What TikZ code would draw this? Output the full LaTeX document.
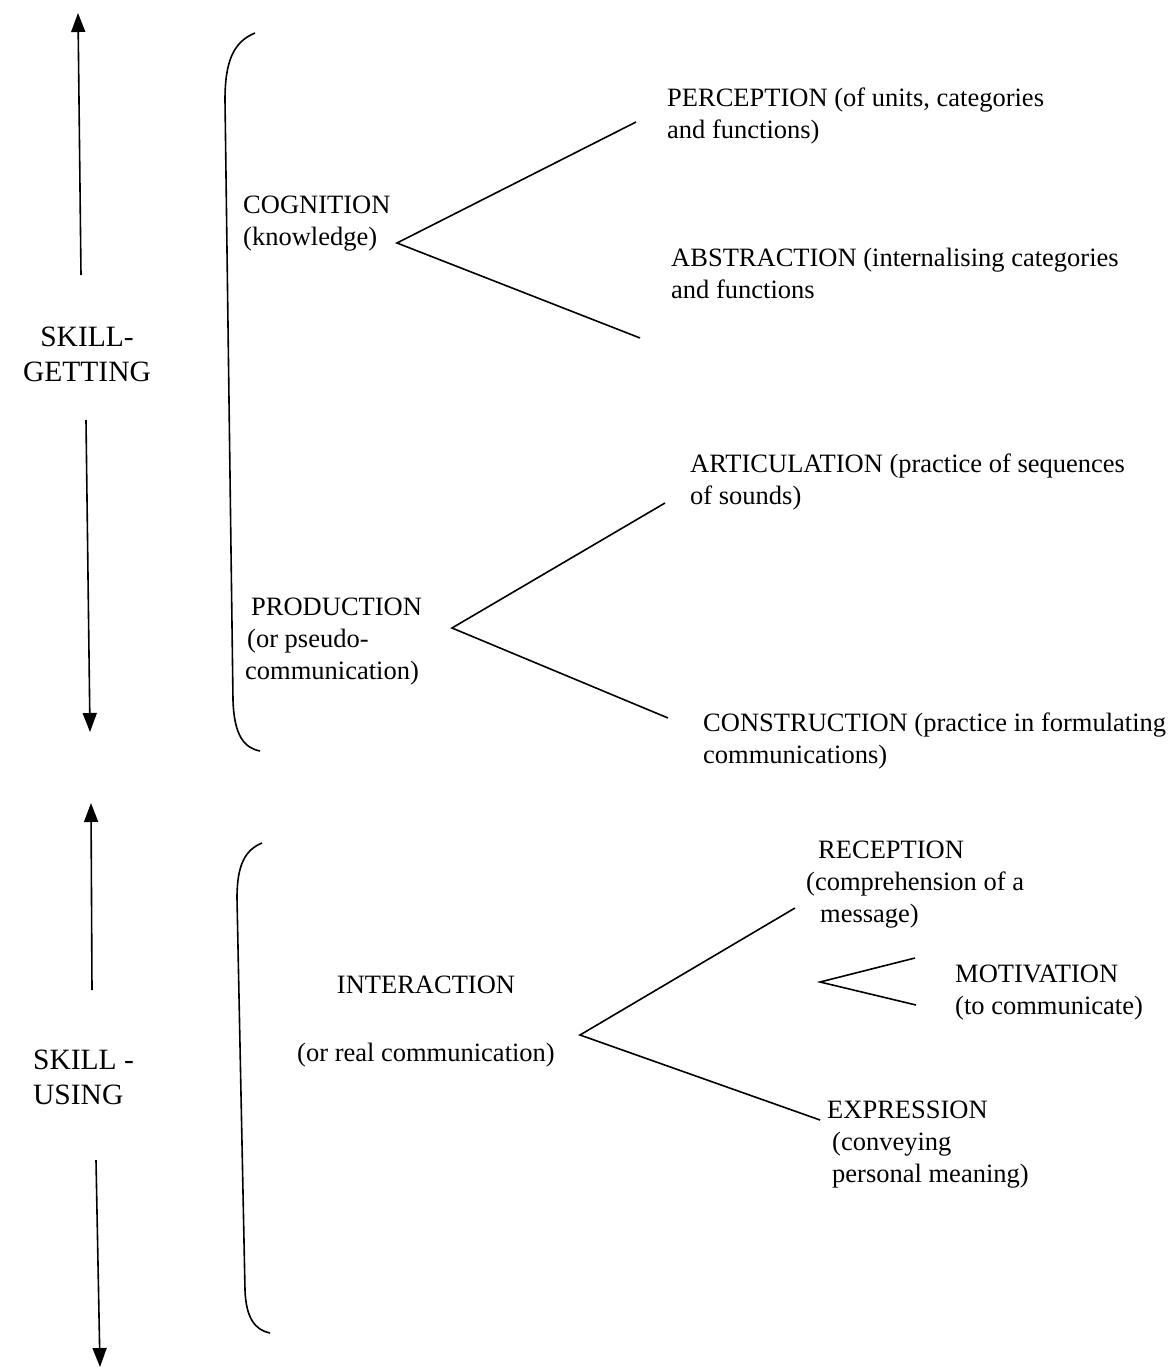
\documentclass[tikz,border=0pt]{standalone}
\usepackage{fontspec}
\setmainfont{Liberation Serif}
\usetikzlibrary{arrows.meta}
\begin{document}
\begin{tikzpicture}[x=1pt,y=-1pt,
  lbl/.style={font=\fontsize{26.5}{32}\selectfont, inner sep=0pt, anchor=north west, align=left},
  big/.style={font=\fontsize{29.5}{35}\selectfont, inner sep=0pt, anchor=north, align=center},
  arr/.style={line width=1.6pt, -{Triangle[length=19pt,width=14pt]}},
  ln/.style={line width=1.6pt},
  brk/.style={line width=1.6pt}]
\useasboundingbox[fill=white] (0,0) rectangle (1173,1372);

% side labels
\node[big] (sg) at (87,327) {SKILL-\\GETTING};
\node[big, align=left, anchor=north west] (su) at (33,1050) {SKILL -\\USING};

% text nodes
\node[lbl] (cog) at (243,196) {COGNITION\\(knowledge)};
\node[lbl] (perc) at (667,88) {PERCEPTION (of units, categories\\and functions)};
\node[lbl] (abs) at (671,248) {ABSTRACTION (internalising categories\\and functions};
\node[lbl] (prod) at (245,598) {\hspace*{6pt}PRODUCTION\\\hspace*{2pt}(or pseudo-\\communication)};
\node[lbl] (art) at (690,454) {ARTICULATION (practice of sequences\\of sounds)};
\node[lbl] (cons) at (703,713) {CONSTRUCTION (practice in formulating\\communications)};
\node[lbl, align=center, anchor=north] (inter) at (426,976) {INTERACTION\\[36pt](or real communication)};
\node[lbl] (rec) at (806,841) {\hspace*{12pt}RECEPTION\\(comprehension of a\\\hspace*{14pt}message)};
\node[lbl] (mot) at (955,965) {MOTIVATION\\(to communicate)};
\node[lbl] (expr) at (827,1101) {EXPRESSION\\\hspace*{5pt}(conveying\\\hspace*{5pt}personal meaning)};

% arrows
\coordinate (a1s) at (81,275);  \coordinate (a1e) at (78,13);
\coordinate (a2s) at (86,420);  \coordinate (a2e) at (90,732);
\coordinate (a3s) at (92,990);  \coordinate (a3e) at (91,803);
\coordinate (a4s) at (96,1160); \coordinate (a4e) at (100,1367);
\draw[arr] (a1s) -- (a1e);
\draw[arr] (a2s) -- (a2e);
\draw[arr] (a3s) -- (a3e);
\draw[arr] (a4s) -- (a4e);

% brackets
\draw[brk] (255,33) .. controls (233,42) and (225,62) .. (225,100) -- (233,700) .. controls (234,735) and (244,748) .. (260,751);
\draw[brk] (262,843) .. controls (245,850) and (237,865) .. (237,898) -- (245,1290) .. controls (246,1318) and (255,1330) .. (270,1333);

% branching lines
\coordinate (cv) at (397,243); \coordinate (cu) at (636,122); \coordinate (cd) at (640,338);
\coordinate (pv) at (452,628); \coordinate (pu) at (665,503); \coordinate (pd) at (668,718);
\coordinate (iv) at (580,1035); \coordinate (iu) at (795,908); \coordinate (id) at (820,1120);
\coordinate (mv) at (820,982); \coordinate (mu) at (915,958); \coordinate (md) at (916,1005);
\draw[ln] (cu) -- (cv) -- (cd);
\draw[ln] (pu) -- (pv) -- (pd);
\draw[ln] (iu) -- (iv) -- (id);
\draw[ln] (mu) -- (mv) -- (md);
\end{tikzpicture}
\end{document}
